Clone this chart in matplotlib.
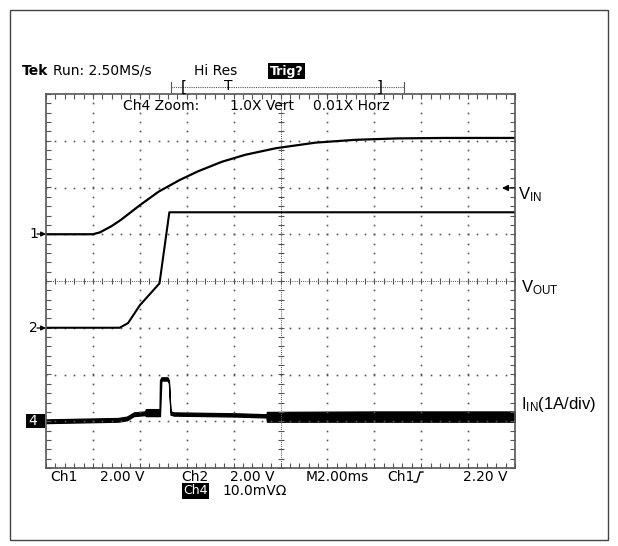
import numpy as np
import matplotlib.pyplot as plt
from matplotlib.lines import Line2D
from matplotlib.patches import Rectangle

W, H = 618, 546

# time in ms (2 ms/div, 10 div across)
vin_t = [0, 2.0, 2.3, 2.8, 3.2, 4.0, 4.8, 5.7, 6.5, 7.5, 8.5, 9.8, 11.5, 13.2, 15.0, 17.0, 20.0]
vin_v = [0, 0, 0.08, 0.35, 0.62, 1.24, 1.82, 2.32, 2.70, 3.10, 3.40, 3.68, 3.92, 4.04, 4.10, 4.12, 4.12]

vout_t = [0, 3.14, 3.5, 4.0, 4.84, 5.26, 20.0]
vout_v = [0, 0, 0.2, 0.96, 1.9, 4.94, 4.94]

# input current as a min/max envelope (A)
iin_t = [0, 3.07, 3.45, 3.75, 4.22, 4.26, 4.84, 4.86, 4.92, 5.18, 5.24, 5.31,
         5.45, 8.14, 9.40, 9.42, 14.0, 20.0]
iin_lo = [-0.04, -0.01, 0.02, 0.11, 0.13, 0.11, 0.11, 0.11, 0.87, 0.87, 0.82, 0.14,
          0.12, 0.10, 0.08, -0.01, -0.01, -0.01]
iin_hi = [0.04, 0.07, 0.10, 0.19, 0.21, 0.26, 0.26, 0.88, 0.94, 0.94, 0.88, 0.21,
          0.19, 0.17, 0.15, 0.20, 0.21, 0.21]

# channel ground positions (div) and scales (units/div)
ch1_pos, ch1_scale = 1, 2.0
ch2_pos, ch2_scale = -1, 2.0
ch4_pos, ch4_scale = -3, 1.0

grid_col = "#555555"
scope_font = "DejaVu Sans"
fs = 10


def px(x, y):
    return x / W, 1 - y / H


def arrow(x0, x1, y, col, size):
    fig.add_artist(plt.matplotlib.patches.FancyArrowPatch(
        px(x0, y), px(x1, y), transform=fig.transFigure, arrowstyle="-|>",
        color=col, lw=0.9, mutation_scale=size, shrinkA=0, shrinkB=0))


fig = plt.figure(figsize=(W / 100, H / 100), dpi=100)
fig.patches.append(Rectangle(px(10, 540), 598 / W, 530 / H, transform=fig.transFigure,
                             fill=False, edgecolor="#444444", lw=1.0))

ax = fig.add_axes([46 / W, 1 - 468 / H, 469 / W, 374 / H])
ax.set_xlim(0, 20)
ax.set_ylim(-4, 4)
for s in ax.spines.values():
    s.set_color(grid_col)
    s.set_linewidth(1.2)

minor_x = np.arange(0, 20.01, 0.4)
minor_y = np.arange(-4, 4.01, 0.2)
ax.set_xticks(minor_x)
ax.set_yticks(minor_y)
ax.tick_params(direction="in", length=3.5, width=0.8, color=grid_col,
               top=True, right=True, labelbottom=False, labelleft=False)

# dotted graticule
for xv in [2, 4, 6, 8, 12, 14, 16, 18]:
    ax.plot([xv] * len(minor_y), minor_y, ls="none", marker="s", ms=1.2,
            mec="none", color=grid_col)
for yv in [-3, -2, -1, 1, 2, 3]:
    ax.plot(minor_x, [yv] * len(minor_x), ls="none", marker="s", ms=1.2,
            mec="none", color=grid_col)
ax.axhline(0, ls=(0, (1, 1.2)), lw=0.7, color=grid_col)
ax.axvline(10, ls=(0, (1, 1.2)), lw=0.7, color=grid_col)
ax.plot(minor_x, [0] * len(minor_x), ls="none", marker="|", ms=4, mew=0.8, color=grid_col)
ax.plot([10] * len(minor_y), minor_y, ls="none", marker="_", ms=4, mew=0.8, color=grid_col)

# traces
ax.plot(vin_t, ch1_pos + np.array(vin_v) / ch1_scale, color="black", lw=1.6,
        solid_joinstyle="round")
ax.plot(vout_t, ch2_pos + np.array(vout_v) / ch2_scale, color="black", lw=1.5,
        solid_joinstyle="round")
ax.fill_between(iin_t, ch4_pos + np.array(iin_lo) / ch4_scale,
                ch4_pos + np.array(iin_hi) / ch4_scale,
                color="black", lw=0.9, edgecolor="black")

# header
fig.text(*px(22, 71), "Tek", fontsize=fs, fontweight="bold", family=scope_font, va="center")
fig.text(*px(53, 71), "Run: 2.50MS/s", fontsize=fs, family=scope_font, va="center")
fig.text(*px(194, 71), "Hi Res", fontsize=fs, family=scope_font, va="center")
fig.text(*px(270, 71), "Trig?", fontsize=9, family=scope_font, va="center", color="white",
         fontweight="bold",
         bbox=dict(facecolor="black", edgecolor="none", pad=1.2))

# record-length ruler
fig.add_artist(Line2D([171 / W, 404 / W], [1 - 87 / H] * 2, ls=(0, (1, 1)), lw=0.8,
                      color=grid_col))
for xr in (171, 404):
    fig.add_artist(Line2D([xr / W] * 2, [1 - 82 / H, 1 - 92 / H], lw=0.8, color=grid_col))
fig.text(*px(184, 87), "[", fontsize=11, family=scope_font, va="center", ha="center")
fig.text(*px(380, 87), "]", fontsize=11, family=scope_font, va="center", ha="center")
fig.text(*px(228, 86), "T", fontsize=fs, family=scope_font, va="center", ha="center")

fig.text(*px(123, 106), "Ch4 Zoom:", fontsize=fs, family=scope_font, va="center")
fig.text(*px(230, 106), "1.0X Vert", fontsize=fs, family=scope_font, va="center")
fig.text(*px(313, 106), "0.01X Horz", fontsize=fs, family=scope_font, va="center")

# channel ground markers
fig.text(*px(29, 234), "1", fontsize=fs, family=scope_font, va="center")
fig.text(*px(29, 328), "2", fontsize=fs, family=scope_font, va="center")
arrow(37, 46, 234, "black", 7)
arrow(37, 46, 328, "black", 7)
fig.patches.append(Rectangle(px(26, 428), 19 / W, 14 / H, transform=fig.transFigure,
                             facecolor="black", edgecolor="none"))
fig.text(*px(28, 421), "4", fontsize=fs, family=scope_font, va="center", color="white")
arrow(36, 45, 421, "white", 7)

# footer readout
foot_y = 477
for x0, s in [(50, "Ch1"), (100, "2.00 V"), (181, "Ch2"), (230, "2.00 V"),
              (306, "M2.00ms"), (387, "Ch1"), (463, "2.20 V")]:
    fig.text(*px(x0, foot_y), s, fontsize=fs, family=scope_font, va="center")
# rising-edge trigger slope icon
fig.add_artist(Line2D([414 / W, 417 / W, 420 / W, 423 / W],
                      [1 - 482 / H, 1 - 482 / H, 1 - 472 / H, 1 - 472 / H],
                      lw=1.0, color="black"))
fig.text(*px(183, 491), "Ch4", fontsize=9, family=scope_font, va="center", color="white",
         bbox=dict(facecolor="black", edgecolor="none", pad=1.0))
fig.text(*px(222, 491), "10.0mV\u03a9", fontsize=fs, family=scope_font, va="center")

# trigger level arrow and signal labels
arrow(514, 502, 188, "black", 9)
label_font = "Liberation Sans"
fig.text(*px(518, 195), r"$\mathregular{V_{IN}}$", fontsize=12, family=label_font, va="center")
fig.text(*px(521, 288), r"$\mathregular{V_{OUT}}$", fontsize=12, family=label_font, va="center")
fig.text(*px(521, 404), r"$\mathregular{I_{IN}}$(1A/div)", fontsize=12, family=label_font,
         va="center")

fig.savefig("out.png", dpi=100)
